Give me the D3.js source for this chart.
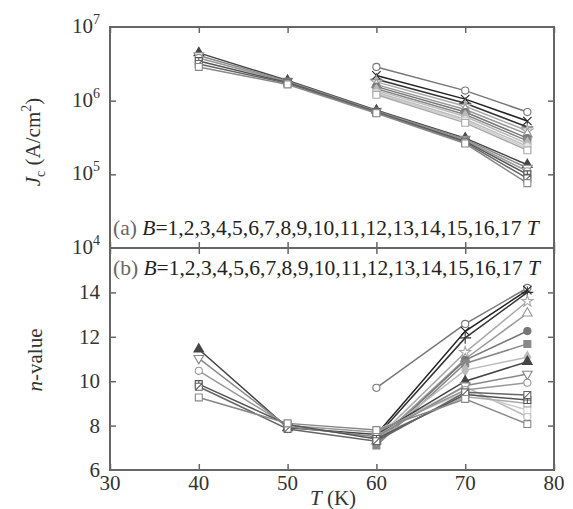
<!DOCTYPE html>
<html>
<head>
<meta charset="utf-8">
<script src="https://cdn.jsdelivr.net/npm/d3@7"></script>
<style>
  body { margin: 0; background: #fff; }
  text { font-family: "Liberation Serif", "Times New Roman", serif; fill: #333; }
</style>
</head>
<body>
<svg id="chart" width="573" height="509"></svg>
<script>
// Temperatures (K) for the two measurement sets
const tempsA = [40, 50, 60, 70, 77];
const tempsB = [60, 70, 77];

// Critical current density Jc (A/cm^2), set A (measured 40–77 K)
const jcA = [
  [4.45e6, 1.88e6, 7.4e5, 3.1e5, 1.35e5],
  [4.1e6, 1.84e6, 7.25e5, 3.0e5, 1.22e5],
  [3.8e6, 1.8e6, 7.1e5, 2.9e5, 1.1e5],
  [3.45e6, 1.76e6, 7.0e5, 2.8e5, 1.0e5],
  [3.15e6, 1.72e6, 6.9e5, 2.72e5, 8.8e4],
  [2.87e6, 1.66e6, 6.75e5, 2.62e5, 7.6e4]
];
// Critical current density Jc (A/cm^2), set B (measured 60–77 K)
const jcB = [
  [2.87e6, 1.37e6, 7.0e5],
  [2.2e6, 1.05e6, 5.3e5],
  [1.95e6, 9.2e5, 4.4e5],
  [1.8e6, 8.4e5, 3.9e5],
  [1.65e6, 7.6e5, 3.5e5],
  [1.55e6, 7.0e5, 3.1e5],
  [1.45e6, 6.5e5, 2.85e5],
  [1.38e6, 6.1e5, 2.6e5],
  [1.3e6, 5.6e5, 2.4e5],
  [1.25e6, 5.3e5, 2.25e5],
  [1.2e6, 5.0e5, 2.12e5]
];
// n-values, set A
const nA = [
  [11.44, 7.9, 7.6, 10.0, 10.88],
  [11.03, 7.95, 7.5, 9.8, 10.32],
  [10.47, 8.0, 7.7, 9.6, 9.93],
  [9.87, 8.05, 7.4, 9.4, 9.15],
  [9.75, 7.85, 7.3, 9.5, 9.38],
  [9.27, 8.1, 7.8, 9.2, 8.07]
];
// n-values, set B
const nB = [
  [9.7, 12.58, 14.2],
  [7.6, 12.25, 14.1],
  [7.5, 11.95, 14.0],
  [7.4, 11.3, 13.6],
  [7.3, 11.0, 13.06],
  [7.2, 10.95, 12.26],
  [7.1, 10.8, 11.68],
  [7.4, 10.5, 11.08],
  [7.7, 9.75, 8.4],
  [7.8, 9.5, 8.7],
  [7.5, 9.3, 9.0]
];

const markersA = ["triangleFilled", "triangleDown", "circle", "squareCross", "squareSlash", "square"];
const shadesA = ["#444", "#888", "#999", "#555", "#666", "#888"];
const markersB = ["circle", "times", "plus", "star", "triangle", "circleFilled",
                  "squareFilled", "diamondFilled", "circle", "square", "square"];
const shadesB = ["#777", "#222", "#333", "#aaa", "#999", "#777", "#888", "#bbb", "#bbb", "#ccc", "#aaa"];

const fieldLabel = "1,2,3,4,5,6,7,8,9,10,11,12,13,14,15,16,17";
const xTicks = [30, 40, 50, 60, 70, 80];
const jcTicks = [1e4, 1e5, 1e6, 1e7];
const nTicks = [6, 8, 10, 12, 14];

const svg = d3.select("#chart");
const left = 110, right = 554, topA = 27, mid = 248, bottomB = 470;
const x = d3.scaleLinear().domain([30, 80]).range([left, right]);
const yJ = d3.scaleLog().domain([1e4, 1e7]).range([mid, topA]);
const yN = d3.scaleLinear().domain([6, 16]).range([bottomB, mid]);

const frameColor = "#666";

// Axes (inward ticks on all four sides of each panel)
function axes(yScale, y0, y1, yTickVals) {
  const g = svg.append("g");
  g.append("g").attr("transform", `translate(${left},0)`)
    .call(d3.axisLeft(yScale).tickValues(yTickVals).tickSizeInner(-6).tickSizeOuter(0).tickFormat(""));
  g.append("g").attr("transform", `translate(${right},0)`)
    .call(d3.axisRight(yScale).tickValues(yTickVals).tickSizeInner(-6).tickSizeOuter(0).tickFormat(""));
  g.append("g").attr("transform", `translate(0,${y0})`)
    .call(d3.axisBottom(x).tickValues(xTicks).tickSizeInner(-6).tickSizeOuter(0).tickFormat(""));
  g.append("g").attr("transform", `translate(0,${y1})`)
    .call(d3.axisTop(x).tickValues(xTicks).tickSizeInner(-6).tickSizeOuter(0).tickFormat(""));
  g.selectAll(".domain").remove();
  g.selectAll(".tick line").attr("stroke", frameColor).attr("stroke-width", 1.5);
  svg.append("rect").attr("x", left).attr("y", y1).attr("width", right - left).attr("height", y0 - y1)
    .attr("fill", "none").attr("stroke", frameColor).attr("stroke-width", 2);
}
axes(yJ, mid, topA, [1e5, 1e6]);
axes(yN, bottomB, mid, [8, 10, 12, 14]);

// Tick labels
const fs = 21;
jcTicks.forEach(v => {
  const t = svg.append("text").attr("x", 100).attr("y", yJ(v) + 6)
    .attr("text-anchor", "end").attr("font-size", fs);
  t.append("tspan").text("10");
  t.append("tspan").attr("font-size", 14).attr("dy", -9).text(Math.round(Math.log10(v)));
});
nTicks.forEach(v => {
  svg.append("text").attr("x", 100).attr("y", yN(v) + 7)
    .attr("text-anchor", "end").attr("font-size", fs).text(v);
});
xTicks.forEach(v => {
  svg.append("text").attr("x", x(v)).attr("y", 490)
    .attr("text-anchor", "middle").attr("font-size", fs).text(v);
});

// Axis titles
const jt = svg.append("text").attr("transform", "translate(40,142) rotate(-90)")
  .attr("text-anchor", "middle").attr("font-size", fs);
jt.append("tspan").attr("font-style", "italic").text("J");
jt.append("tspan").attr("font-size", 14).attr("dy", 5).text("c");
jt.append("tspan").attr("dy", -5).text(" (A/cm");
jt.append("tspan").attr("font-size", 14).attr("dy", -9).text("2");
jt.append("tspan").attr("dy", 9).text(")");

const nt = svg.append("text").attr("transform", "translate(42,360) rotate(-90)")
  .attr("text-anchor", "middle").attr("font-size", fs);
nt.append("tspan").attr("font-style", "italic").text("n");
nt.append("tspan").text("-value");

const tt = svg.append("text").attr("x", 333).attr("y", 505)
  .attr("text-anchor", "middle").attr("font-size", fs);
tt.append("tspan").attr("font-style", "italic").text("T");
tt.append("tspan").text(" (K)");

// Panel captions
function caption(tag, y) {
  const c = svg.append("text").attr("x", 113).attr("y", y).attr("font-size", 21.5);
  c.append("tspan").style("fill", "#666").text(`(${tag}) `);
  c.append("tspan").attr("font-style", "italic").style("fill", "#222").text("B");
  c.append("tspan").style("fill", "#222").text("=" + fieldLabel + " ");
  c.append("tspan").attr("font-style", "italic").style("fill", "#222").text("T");
}
caption("a", 235);
caption("b", 275);

// Marker shapes
function markerPath(type) {
  const s = 3.5;
  switch (type) {
    case "circle": case "circleFilled": return d3.symbol(d3.symbolCircle, 40)();
    case "square": case "squareFilled": return d3.symbol(d3.symbolSquare, 48)();
    case "triangle": case "triangleFilled": return d3.symbol(d3.symbolTriangle, 40)();
    case "triangleDown": return d3.symbol(d3.symbolTriangle, 40)();
    case "diamondFilled": return d3.symbol(d3.symbolDiamond, 40)();
    case "star": return d3.symbol(d3.symbolStar, 40)();
    case "times": return d3.symbol(d3.symbolTimes, 48)();
    case "plus": return d3.symbol(d3.symbolPlus, 48)();
    case "squareCross": return d3.symbol(d3.symbolSquare, 48)() + `M${-s},0L${s},0M0,${-s}L0,${s}`;
    case "squareSlash": return d3.symbol(d3.symbolSquare, 48)() + `M${-s},${s}L${s},${-s}`;
  }
}
function drawSeries(g, temps, values, yScale, type, color) {
  const line = d3.line().x((d, i) => x(temps[i])).y(d => yScale(d));
  g.append("path").datum(values).attr("d", line)
    .attr("fill", "none").attr("stroke", color).attr("stroke-width", 1.5);
  const filled = /Filled$/.test(type);
  const strokeOnly = type === "times" || type === "plus";
  g.selectAll(null).data(values).join("path")
    .attr("d", markerPath(type))
    .attr("transform", (d, i) => `translate(${x(temps[i])},${yScale(d)})` + (type === "triangleDown" ? " rotate(180)" : ""))
    .attr("fill", filled ? color : (strokeOnly ? "none" : "#fff"))
    .attr("stroke", color).attr("stroke-width", 1.1);
}

const plotJ = svg.append("g");
jcB.forEach((v, i) => drawSeries(plotJ, tempsB, v, yJ, markersB[i], shadesB[i]));
jcA.forEach((v, i) => drawSeries(plotJ, tempsA, v, yJ, markersA[i], shadesA[i]));

const plotN = svg.append("g");
nB.forEach((v, i) => drawSeries(plotN, tempsB, v, yN, markersB[i], shadesB[i]));
nA.forEach((v, i) => drawSeries(plotN, tempsA, v, yN, markersA[i], shadesA[i]));
</script>
</body>
</html>
